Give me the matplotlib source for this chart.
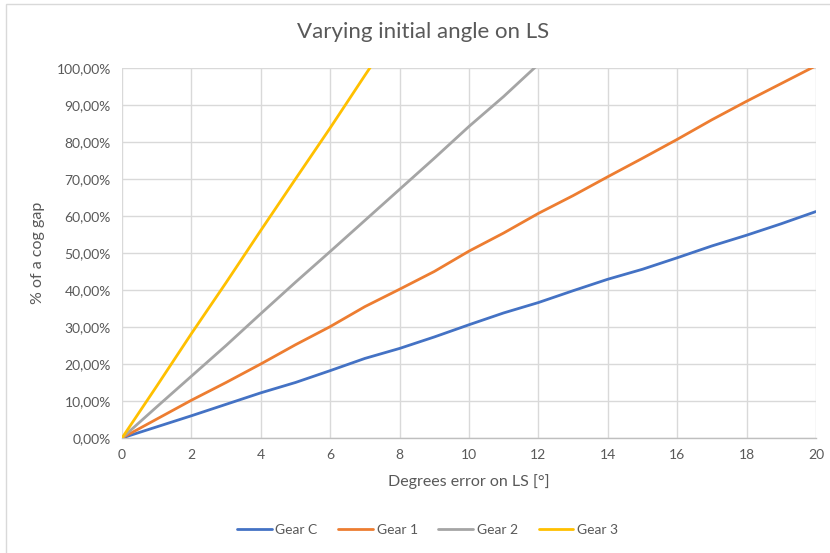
import matplotlib
matplotlib.use("Agg")
import matplotlib.pyplot as plt
from matplotlib.patches import Rectangle
from matplotlib.ticker import FuncFormatter, MultipleLocator

plt.rcParams['font.family'] = ['Lato', 'DejaVu Sans']

# error on LS in degrees
degrees = [0, 1, 2, 3, 4, 5, 6, 7, 8, 9, 10, 11, 12, 13, 14, 15, 16, 17, 18, 19, 20]

# share of a cog gap, in %
gear_c = [0, 3.0, 6.0, 9.1, 12.2, 15.0, 18.2, 21.5, 24.2, 27.3, 30.6, 33.8, 36.6, 39.8, 42.9, 45.6, 48.7, 51.9, 54.8, 57.9, 61.2]
gear_1 = [0, 5.1, 10.2, 15.0, 20.0, 25.2, 30.1, 35.5, 40.2, 45.0, 50.5, 55.4, 60.7, 65.5, 70.6, 75.6, 80.7, 86.0, 91.0, 95.8, 100.6]
gear_2 = [0, 8.4, 16.7, 25.0, 33.6, 42.1, 50.4, 58.8, 67.2, 75.6, 84.2, 92.3, 101.0]
gear_3 = [0, 14.0, 28.2, 42.0, 56.1, 70.0, 83.8, 98.0, 112.0]

series = [("Gear C", gear_c, "#4472C4"),
          ("Gear 1", gear_1, "#ED7D31"),
          ("Gear 2", gear_2, "#A5A5A5"),
          ("Gear 3", gear_3, "#FFC000")]

txt = "#595959"

fig = plt.figure(figsize=(8.3, 5.53), dpi=100)
ax = fig.add_axes([0.147, 0.208, 0.836, 0.669])

for name, vals, col in series:
    ax.plot(degrees[:len(vals)], vals, color=col, lw=2.0, label=name,
            solid_capstyle="round", zorder=3)

ax.set_xlim(0, 20)
ax.set_ylim(0, 100)
ax.xaxis.set_major_locator(MultipleLocator(2))
ax.yaxis.set_major_locator(MultipleLocator(10))
ax.yaxis.set_major_formatter(FuncFormatter(lambda v, p: f"{v:.2f}%".replace(".", ",")))

ax.grid(True, color="#d9d9d9", lw=1.0, zorder=0)
for s in ["top", "right", "left"]:
    ax.spines[s].set_visible(False)
ax.spines["bottom"].set_color("#bfbfbf")
ax.spines["bottom"].set_linewidth(1.0)
ax.tick_params(length=0, colors=txt, labelsize=10, pad=8)

ax.set_xlabel("Degrees error on LS [°]", color=txt, fontsize=11.5, labelpad=9)
ax.set_ylabel("% of a cog gap", color=txt, fontsize=11.5, labelpad=8)
fig.text(0.51, 0.942, "Varying initial angle on LS", ha="center", va="center",
         color=txt, fontsize=16)

ax.legend(loc="center", bbox_to_anchor=(0.515, 0.042), bbox_transform=fig.transFigure,
          ncol=4, frameon=False, fontsize=10, labelcolor=txt, handlelength=2.5,
          handletextpad=0.25, columnspacing=1.5)

# chart area border
fig.patches.append(Rectangle((6 / 830, -0.1), 1.2, 1.1 - 4 / 553, transform=fig.transFigure,
                             fill=False, edgecolor="#d9d9d9", lw=1.0))

fig.savefig("out.png", dpi=100)
